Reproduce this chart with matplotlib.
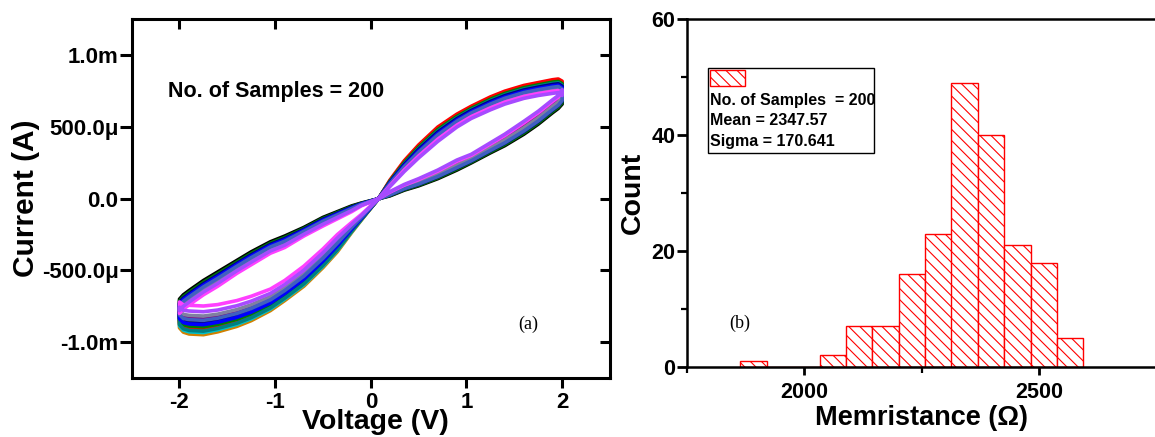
import numpy as np
import matplotlib.pyplot as plt
from matplotlib.patches import Rectangle

plt.rcParams['font.family'] = ['Liberation Sans', 'DejaVu Sans']
plt.rcParams['font.weight'] = 'bold'
plt.rcParams['axes.labelweight'] = 'bold'
plt.rcParams['hatch.linewidth'] = 0.8

# ---- (a) I-V loops (mA) ----
# positive half: voltage points and band envelopes (low/high |I|)
v_pos = [0.08, 0.2, 0.35, 0.5, 0.7, 0.9, 1.05, 1.25, 1.4, 1.6, 1.75, 1.9, 1.96, 2.0]
on_pos_lo = [0, 0.085, 0.19, 0.285, 0.40, 0.50, 0.56, 0.62, 0.66, 0.70, 0.72, 0.735, 0.74, 0.72]
on_pos_hi = [0, 0.13, 0.265, 0.375, 0.50, 0.59, 0.645, 0.71, 0.75, 0.79, 0.81, 0.83, 0.835, 0.82]
off_pos_lo = [0, 0.02, 0.06, 0.09, 0.14, 0.20, 0.25, 0.32, 0.37, 0.45, 0.52, 0.60, 0.63, 0.66]
off_pos_hi = [0, 0.05, 0.10, 0.14, 0.20, 0.27, 0.31, 0.39, 0.45, 0.54, 0.61, 0.69, 0.72, 0.76]

# negative half
v_neg = [0.08, -0.1, -0.2, -0.35, -0.5, -0.7, -0.9, -1.05, -1.25, -1.4, -1.6, -1.75, -1.9, -1.96, -2.0]
on_neg_lo = [0, -0.11, -0.165, -0.25, -0.35, -0.47, -0.57, -0.63, -0.68, -0.71, -0.738, -0.748, -0.743, -0.74, -0.72]
on_neg_hi = [0, -0.15, -0.235, -0.37, -0.48, -0.61, -0.71, -0.78, -0.85, -0.89, -0.928, -0.948, -0.943, -0.93, -0.90]
off_neg_lo = [0, -0.03, -0.05, -0.09, -0.13, -0.20, -0.26, -0.30, -0.37, -0.43, -0.51, -0.57, -0.64, -0.67, -0.70]
off_neg_hi = [0, -0.05, -0.09, -0.14, -0.19, -0.26, -0.34, -0.38, -0.46, -0.52, -0.61, -0.67, -0.74, -0.77, -0.80]

# each sample's place inside the bands (-1 = smaller |I|, +1 = larger |I|)
loop_colors = ['#D08000', '#00C0CC', '#808000', '#FF0000', '#000000', '#008000', '#008080',
               '#800080', '#000080', '#0000FF', '#8080A0', '#4060C0', '#FF40FF', '#A64BFF']
t_on_pos = [0.5, 0.8, 0.2, 1.0, 0.0, 0.65, 0.45, -0.2, 0.3, 0.1, -0.4, -0.1, -0.7, -1.0]
t_off_pos = [0.1, 0.3, -0.1, 0.4, -1.0, -0.8, -0.4, 0.2, -0.6, -0.25, 0.0, -0.5, 0.75, 1.0]
t_on_neg = [1.0, 0.85, 0.7, 0.6, 0.1, 0.45, 0.75, -0.1, 0.25, 0.3, -0.3, 0.0, -1.0, -0.6]
t_off_neg = [0.3, 0.0, -0.4, 0.5, -1.0, -0.75, -0.2, 0.1, -0.55, -0.35, 0.25, -0.1, 1.0, 0.6]

# ---- (b) histogram ----
bin_left = [1863.6, 1919.8, 1975.9, 2032.1, 2088.2, 2144.4, 2200.5, 2256.7,
            2312.8, 2369.0, 2425.1, 2481.3, 2537.4]
bin_width = 56.15
counts = [1, 0, 0, 2, 7, 7, 16, 23, 49, 40, 21, 18, 5]
stats_lines = ['No. of Samples  = 200', 'Mean = 2347.57', 'Sigma = 170.641']


def band(lo, hi, t):
    lo = np.array(lo)
    hi = np.array(hi)
    return lo + (t + 1) / 2 * (hi - lo)


fig = plt.figure(figsize=(11.55, 4.37), dpi=100)

# ------------------ left panel ------------------
ax1 = fig.add_axes([0.1140, 0.1350, 0.4141, 0.8204])
vp = np.array(v_pos)
vn = np.array(v_neg)
for k, c in enumerate(loop_colors):
    v = np.concatenate([vp, vp[::-1], vn, vn[::-1]])
    cur = np.concatenate([band(off_pos_lo, off_pos_hi, t_off_pos[k]),
                          band(on_pos_lo, on_pos_hi, t_on_pos[k])[::-1],
                          band(on_neg_lo, on_neg_hi, t_on_neg[k]),
                          band(off_neg_lo, off_neg_hi, t_off_neg[k])[::-1]])
    ax1.plot(v, cur * 1e-3, color=c, lw=2.6, solid_joinstyle='round')

ax1.set_xlim(-2.5, 2.5)
ax1.set_ylim(-1.25e-3, 1.25e-3)
ax1.set_xticks([-2, -1, 0, 1, 2])
ax1.set_xticklabels(['-2', '-1', '0', '1', '2'])
ax1.set_yticks([-1e-3, -5e-4, 0, 5e-4, 1e-3])
ax1.set_yticklabels(['-1.0m', '-500.0\u03bc', '0.0', '500.0\u03bc', '1.0m'])
# ticks point in on top/right, out on bottom/left
ax1.tick_params(axis='both', which='major', labelsize=16, width=2.2, length=7.5,
                direction='in', top=True, right=True)
ax1.tick_params(axis='y', pad=9.4)
ax1.tick_params(axis='x', pad=10)
for tk in ax1.xaxis.get_major_ticks():
    tk.tick1line.set_marker(3)
for tk in ax1.yaxis.get_major_ticks():
    tk.tick1line.set_marker(0)
    tk.tick1line.set_markersize(9)
for sp in ax1.spines.values():
    sp.set_linewidth(2.2)
ax1.set_xlabel('Voltage (V)', fontsize=20.5)
# sit the label on the bottom edge, between the tick labels as in the original
ax1.xaxis.label.set_va('bottom')
ax1.xaxis.set_label_coords(0.51, -0.16)
ax1.set_ylabel('Current (A)', fontsize=21.5, labelpad=1)
ax1.text(0.076, 0.798, 'No. of Samples = 200', transform=ax1.transAxes,
         fontsize=15.5, ha='left', va='center')
ax1.text(0.829, 0.151, '(a)', transform=ax1.transAxes, fontsize=13,
         family='Liberation Serif', weight='normal', ha='center', va='center')

# ------------------ right panel ------------------
ax2 = fig.add_axes([0.5948, 0.1602, 0.4069, 0.7963])
ax2.bar(bin_left, counts, width=bin_width, align='edge', facecolor='white',
        edgecolor='#FF0000', hatch='\\\\\\', lw=1.0)
ax2.set_xlim(1750, 2750)
ax2.set_ylim(0, 60)
ax2.set_xticks([2000, 2500])
ax2.set_xticks([1750, 2250, 2750], minor=True)
ax2.set_yticks([0, 20, 40, 60])
ax2.set_yticks([10, 30, 50], minor=True)
ax2.tick_params(axis='both', which='major', labelsize=15.5, width=2, direction='out')
ax2.tick_params(axis='y', which='major', length=7.5, pad=1)
ax2.tick_params(axis='x', which='major', length=5.5, pad=5)
ax2.tick_params(axis='both', which='minor', length=4, width=1.6, direction='out')
ax2.spines['right'].set_visible(False)
for s in ['left', 'bottom', 'top']:
    ax2.spines[s].set_linewidth(1.8)
ax2.set_xlabel('Memristance (\u03a9)', fontsize=19.5, labelpad=2)
ax2.set_ylabel('Count', fontsize=20.5, labelpad=4)

# stats box
ax2.add_patch(Rectangle((0.0447, 0.615), 0.353, 0.244, transform=ax2.transAxes,
                        facecolor='white', edgecolor='black', lw=1.0, zorder=3))
ax2.add_patch(Rectangle((0.049, 0.807), 0.074, 0.046, transform=ax2.transAxes,
                        facecolor='white', edgecolor='#FF0000', hatch='\\\\\\',
                        lw=1.0, zorder=4))
for j, line in enumerate(stats_lines):
    ax2.text(0.049, 0.767 - j * 0.059, line, transform=ax2.transAxes,
             fontsize=11.5, ha='left', va='center', zorder=5)
ax2.text(0.113, 0.124, '(b)', transform=ax2.transAxes, fontsize=13,
         family='Liberation Serif', weight='normal', ha='center', va='center')

fig.savefig('out.png', dpi=100)
